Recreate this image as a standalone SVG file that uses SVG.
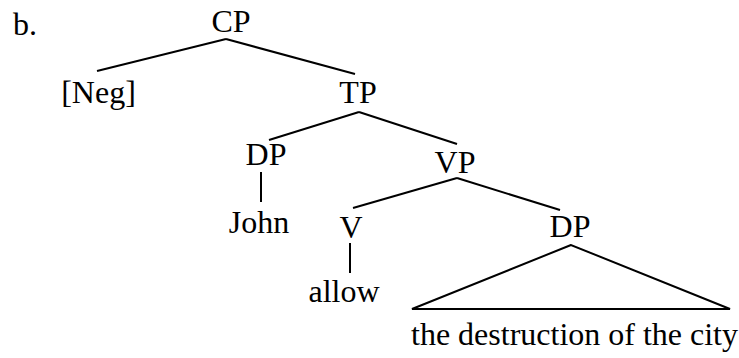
<svg xmlns="http://www.w3.org/2000/svg" width="739" height="358" viewBox="0 0 739 358">
<style>
text{font-size:32px;fill:#000;text-anchor:middle}
.e{stroke:#000;stroke-width:2;fill:none;stroke-linecap:butt}
</style>
<rect width="739" height="358" fill="#fff"/>
<g font-family="Liberation Serif, Tinos, Times New Roman, DejaVu Serif, serif">
<text x="13" y="35" style="text-anchor:start">b.</text>
<g id="CP"><text x="231" y="32">CP</text></g>
<g id="Neg"><text x="98.5" y="103">[Neg]</text></g>
<g id="TP"><text x="358" y="103">TP</text></g>
<g id="DP1"><text x="266" y="165">DP</text></g>
<g id="VP"><text x="455" y="173">VP</text></g>
<g id="John"><text x="259" y="233">John</text></g>
<g id="V"><text x="351" y="238">V</text></g>
<g id="DP2"><text x="570" y="237">DP</text></g>
<g id="allow"><text x="344" y="302">allow</text></g>
<g id="phrase"><text x="574.5" y="345">the destruction of the city</text></g>
</g>
<g id="connectors" class="e">
<line x1="226" y1="39" x2="97" y2="71"/>
<line x1="226" y1="39" x2="355" y2="74"/>
<line x1="359" y1="112" x2="269" y2="140"/>
<line x1="359" y1="112" x2="457" y2="144"/>
<line x1="261" y1="172" x2="261" y2="202"/>
<line x1="457" y1="178" x2="353" y2="208"/>
<line x1="457" y1="178" x2="560" y2="210"/>
<line x1="350" y1="243" x2="350" y2="273"/>
<polygon points="571,245 412,309 730,309"/>
</g>
</svg>
